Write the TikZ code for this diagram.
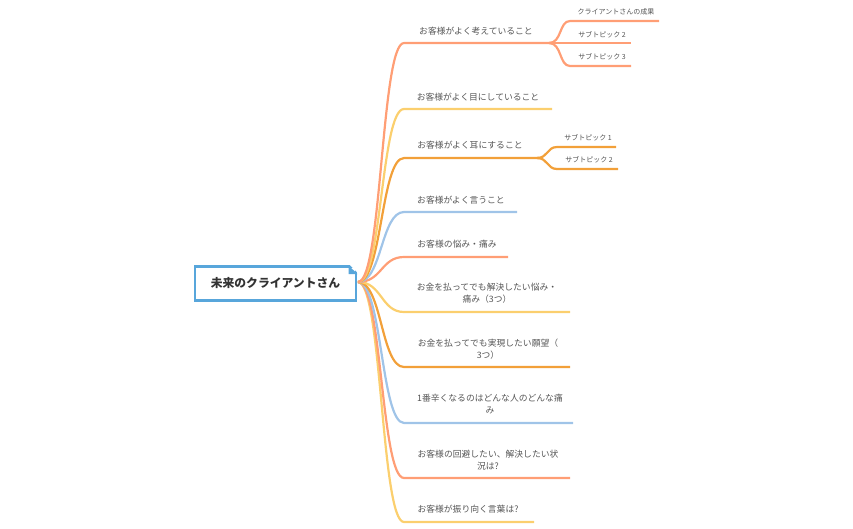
\documentclass[tikz,border=0pt]{standalone}
\usepackage{fontspec}
\setmainfont{Noto Sans CJK JP}
\definecolor{salmon}{HTML}{FF9E75}
\definecolor{sun}{HTML}{FBCF6E}
\definecolor{amber}{HTML}{F2A039}
\definecolor{sky}{HTML}{A0C4E8}
\definecolor{rootblue}{HTML}{58A6DB}
\definecolor{ink}{HTML}{555555}
\tikzset{
  branch/.style={line width=2.2pt,line cap=butt,line join=round},
  lab/.style={inner sep=0pt,text=ink,align=center,font=\fontsize{8.8}{12}\selectfont},
  sublab/.style={inner sep=0pt,text=ink,align=center,font=\fontsize{7}{8}\selectfont},
  rootbox/.style={draw=rootblue,line width=2.4pt,fill=white,minimum width=161pt,minimum height=34pt,inner sep=0pt,text=black!80,font=\fontsize{11.8}{14}\selectfont\bfseries},
}
\begin{document}
\begin{tikzpicture}[x=1pt,y=-1pt]
\useasboundingbox (0,0) rectangle (853,528);
\coordinate (hub) at (358,282);
\foreach \n/\ya/\xb in {1/43/552,2/109/552,3/158/541,4/212/517,5/257/508,6/312/570,7/367/570,8/423/573,9/478/570,10/522/534}{
  \coordinate (a\n) at (404,\ya);
  \coordinate (b\n) at (\xb,\ya);
}
\coordinate (f1) at (549,43);
\coordinate (f3) at (537,158);
\coordinate (s1) at (570,21);  \coordinate (e1) at (659,21);
\coordinate (s2) at (570,43);  \coordinate (e2) at (631,43);
\coordinate (s3) at (570,66);  \coordinate (e3) at (631,66);
\coordinate (s4) at (557,147); \coordinate (e4) at (616,147);
\coordinate (s5) at (557,169); \coordinate (e5) at (618,169);
% main branches
\foreach \n/\c in {10/sun,9/salmon,8/sky,7/amber,6/sun,5/salmon,4/sky,3/amber,2/sun,1/salmon}{
  \draw[branch,\c] (hub) .. controls +(24,0) and +(-23,0) .. (a\n) -- (b\n);
}
% sub branches
\foreach \n in {1,2,3}{
  \draw[branch,salmon] (f1) .. controls +(13,0) and +(-11,0) .. (s\n) -- (e\n);
}
\foreach \n in {4,5}{
  \draw[branch,amber] (f3) .. controls +(11,0) and +(-10,0) .. (s\n) -- (e\n);
}
% root
\node[rootbox] (root) at (275.5,283.5) {未来のクライアントさん};
\fill[white] (349,264) -- (359,264) -- (359,274) -- cycle;
\fill[rootblue] (348.5,265.5) -- (357.5,274) -- (348.5,274) -- cycle;
% labels
\node[lab] (t1) at (476,31) {お客様がよく考えていること};
\node[lab] (t2) at (478,97) {お客様がよく目にしていること};
\node[lab] (t3) at (470,145) {お客様がよく耳にすること};
\node[lab] (t4) at (461,200) {お客様がよく言うこと};
\node[lab] (t5) at (457,244) {お客様の悩み・痛み};
\node[lab] (t6) at (487,293.5) {お金を払ってでも解決したい悩み・\\痛み（3つ）};
\node[lab] (t7) at (488,349) {お金を払ってでも実現したい願望（\\3つ）};
\node[lab] (t8) at (490,404) {1番辛くなるのはどんな人のどんな痛\\み};
\node[lab] (t9) at (488,460) {お客様の回避したい、解決したい状\\況は?};
\node[lab] (t10) at (468,509) {お客様が振り向く言葉は?};
\node[sublab] (u1) at (616,12) {クライアントさんの成果};
\node[sublab] (u2) at (602,35) {サブトピック 2};
\node[sublab] (u3) at (602,57) {サブトピック 3};
\node[sublab] (u4) at (588,138) {サブトピック 1};
\node[sublab] (u5) at (589,160) {サブトピック 2};
\end{tikzpicture}
\end{document}
